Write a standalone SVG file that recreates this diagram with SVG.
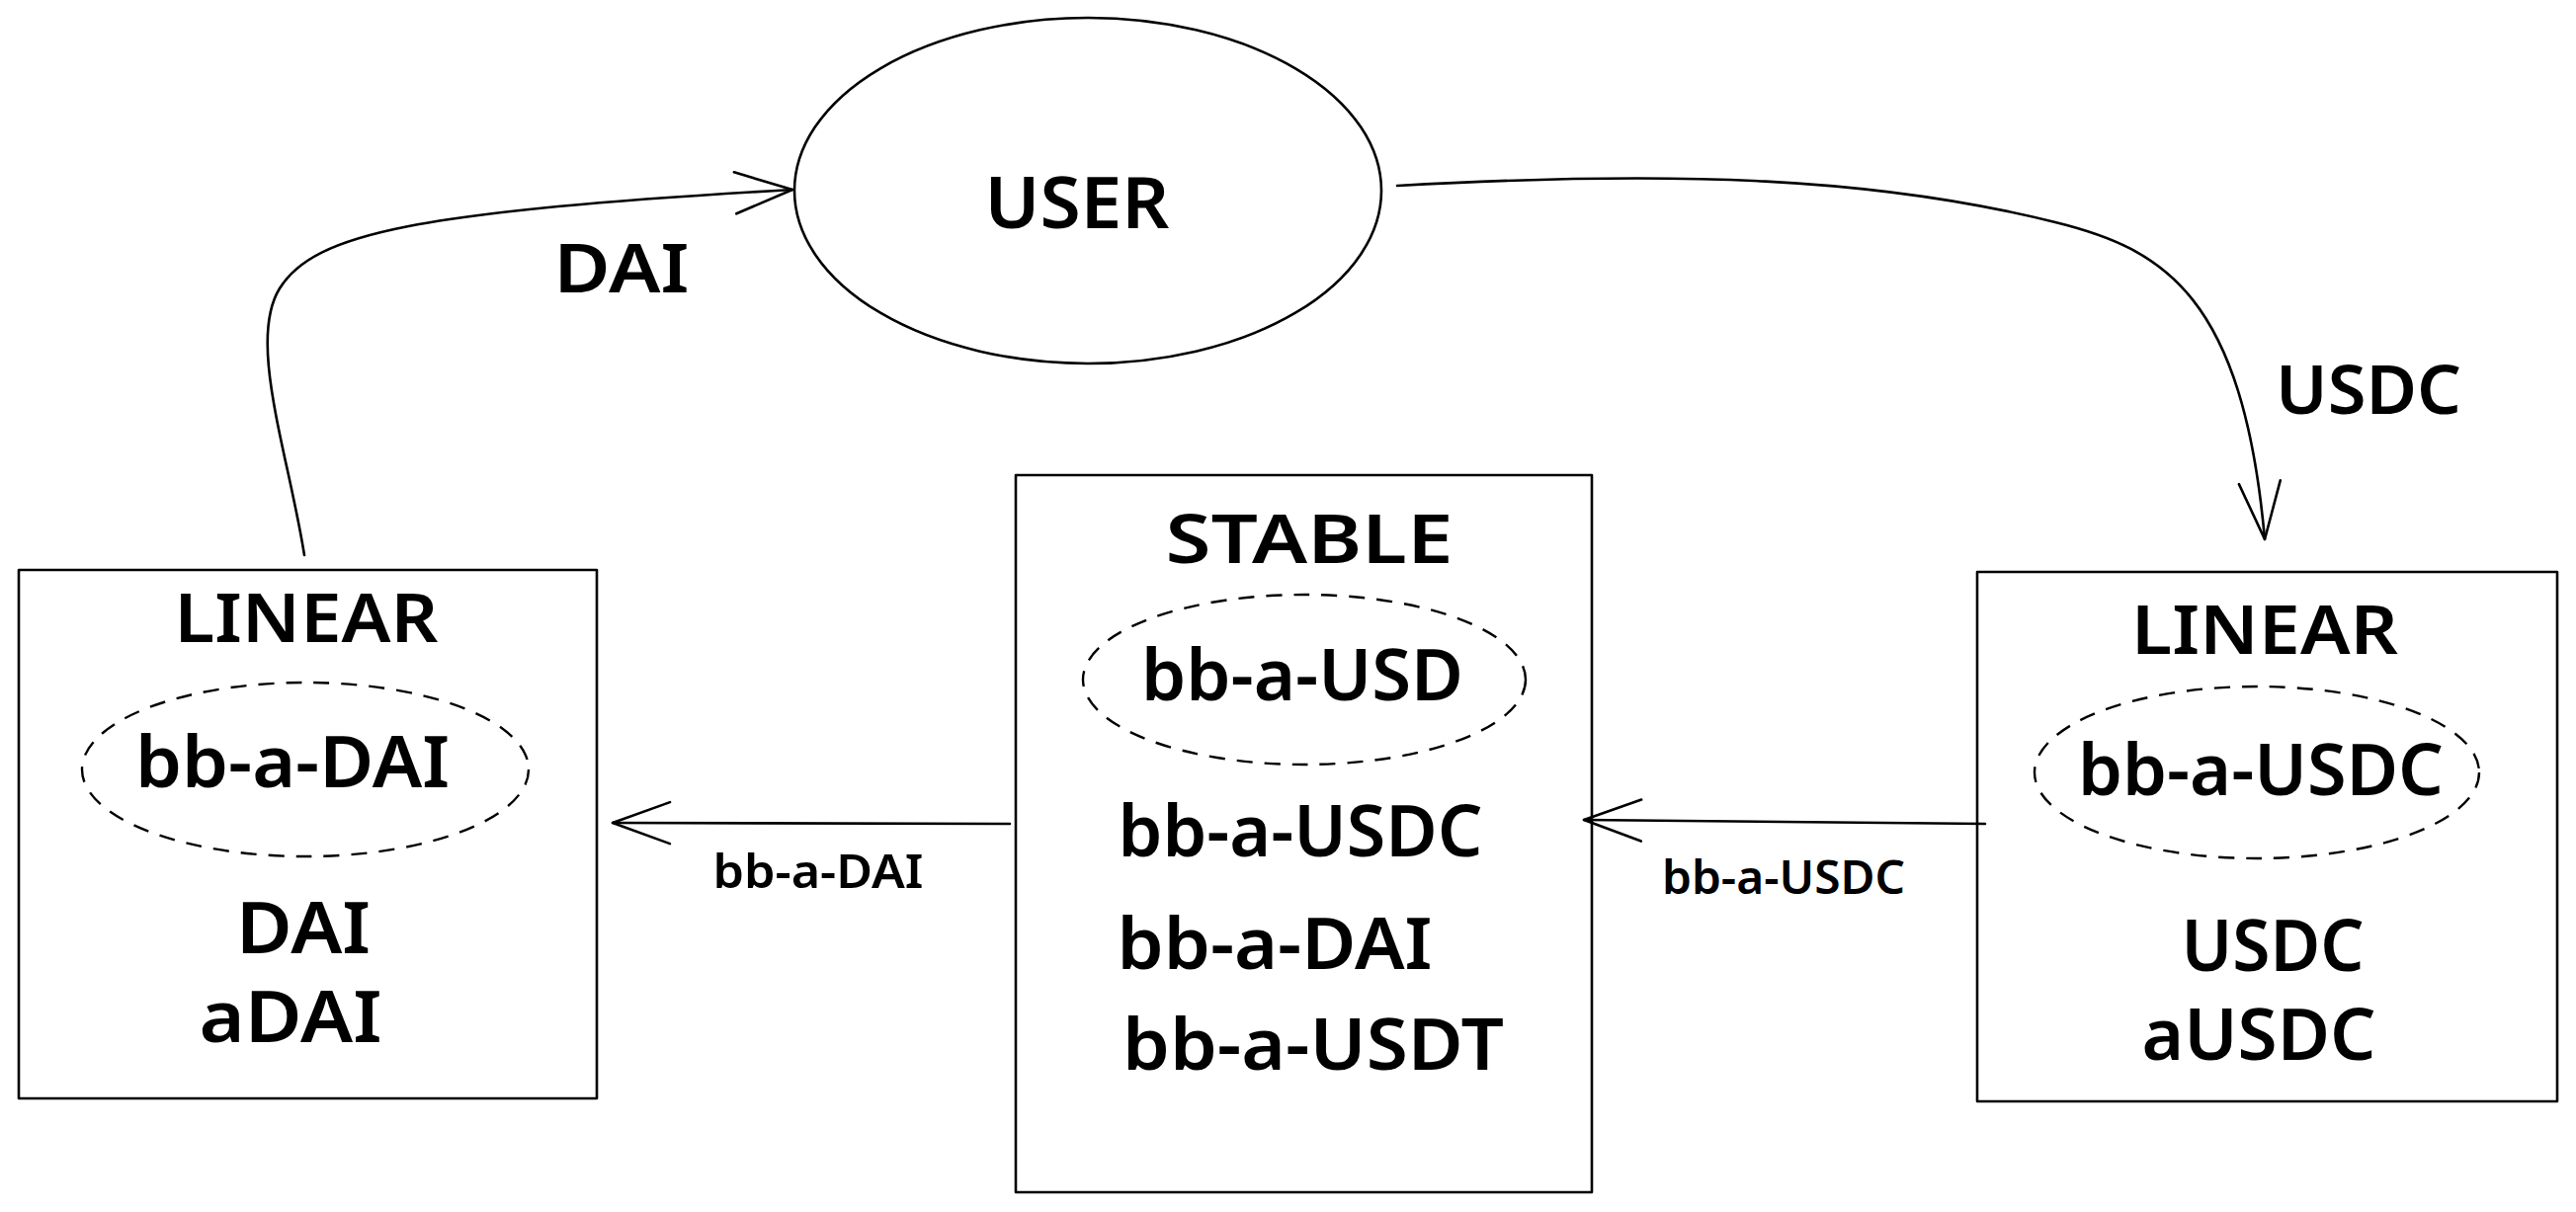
<svg xmlns="http://www.w3.org/2000/svg" width="2607" height="1227" viewBox="0 0 2607 1227">
<style>
.shape{fill:none;stroke:#000;stroke-width:2.6;stroke-linecap:round;stroke-linejoin:round}
.dash{fill:none;stroke:#000;stroke-width:2.4;stroke-dasharray:16 12}
.conn{fill:none;stroke:#000;stroke-width:2.6;stroke-linecap:round}
.t{font-family:"Noto Sans","Liberation Sans",sans-serif;fill:#000;text-anchor:middle;font-weight:600}
.big{font-size:72px}
.mid{font-size:68px}
.small{font-size:46px}
</style>
<defs>
<marker id="arr" viewBox="0 0 60 46" refX="60" refY="23" markerWidth="60" markerHeight="46" markerUnits="userSpaceOnUse" orient="auto" overflow="visible">
<path d="M2,2 L60,23 L2,44" fill="none" stroke="#000" stroke-width="2.6" stroke-linecap="round" stroke-linejoin="round"/>
</marker>
</defs>
<rect width="2607" height="1227" fill="#fff"/>
<g id="connectors">
<path class="conn" d="M308,562 C292,460 250,345 283,292 C318,236 420,214 802,192" marker-end="url(#arr)"/>
<path class="conn" d="M1414,188 C1700,172 1900,180 2080,225 C2190,252 2270,300 2292,546" marker-end="url(#arr)"/>
<path class="conn" d="M1022,834 L620,833" marker-end="url(#arr)"/>
<path class="conn" d="M2009,834 L1603,830" marker-end="url(#arr)"/>
<text class="t mid" x="629" y="296" textLength="137" lengthAdjust="spacingAndGlyphs">DAI</text>
<text class="t mid" x="2397" y="419" textLength="188" lengthAdjust="spacingAndGlyphs">USDC</text>
<text class="t small" x="828" y="899" textLength="213" lengthAdjust="spacingAndGlyphs">bb-a-DAI</text>
<text class="t small" x="1805" y="905" textLength="246" lengthAdjust="spacingAndGlyphs">bb-a-USDC</text>
</g>
<g id="user">
<ellipse class="shape" cx="1101" cy="193" rx="297" ry="175"/>
<text class="t big" x="1090" y="231" textLength="187" lengthAdjust="spacingAndGlyphs">USER</text>
</g>
<g id="linear-dai">
<rect class="shape" x="19" y="577" width="585" height="535"/>
<text class="t mid" x="310" y="650" textLength="267" lengthAdjust="spacingAndGlyphs">LINEAR</text>
<ellipse class="dash" cx="309" cy="779" rx="226" ry="88"/>
<text class="t big" x="296" y="797" textLength="318" lengthAdjust="spacingAndGlyphs">bb-a-DAI</text>
<text class="t big" x="307" y="965" textLength="136" lengthAdjust="spacingAndGlyphs">DAI</text>
<text class="t big" x="294" y="1055" textLength="185" lengthAdjust="spacingAndGlyphs">aDAI</text>
</g>
<g id="stable">
<rect class="shape" x="1028" y="481" width="583" height="726"/>
<text class="t mid" x="1325" y="570" textLength="291" lengthAdjust="spacingAndGlyphs">STABLE</text>
<ellipse class="dash" cx="1320" cy="688" rx="224" ry="86"/>
<text class="t big" x="1318" y="709" textLength="326" lengthAdjust="spacingAndGlyphs">bb-a-USD</text>
<text class="t big" x="1316" y="867" textLength="369" lengthAdjust="spacingAndGlyphs">bb-a-USDC</text>
<text class="t big" x="1290" y="981" textLength="319" lengthAdjust="spacingAndGlyphs">bb-a-DAI</text>
<text class="t big" x="1329" y="1083" textLength="386" lengthAdjust="spacingAndGlyphs">bb-a-USDT</text>
</g>
<g id="linear-usdc">
<rect class="shape" x="2001" y="579" width="587" height="536"/>
<text class="t mid" x="2292" y="662" textLength="270" lengthAdjust="spacingAndGlyphs">LINEAR</text>
<ellipse class="dash" cx="2284" cy="782" rx="225" ry="87"/>
<text class="t big" x="2288" y="805" textLength="370" lengthAdjust="spacingAndGlyphs">bb-a-USDC</text>
<text class="t big" x="2300" y="983" textLength="185" lengthAdjust="spacingAndGlyphs">USDC</text>
<text class="t big" x="2286" y="1073" textLength="237" lengthAdjust="spacingAndGlyphs">aUSDC</text>
</g>
</svg>
